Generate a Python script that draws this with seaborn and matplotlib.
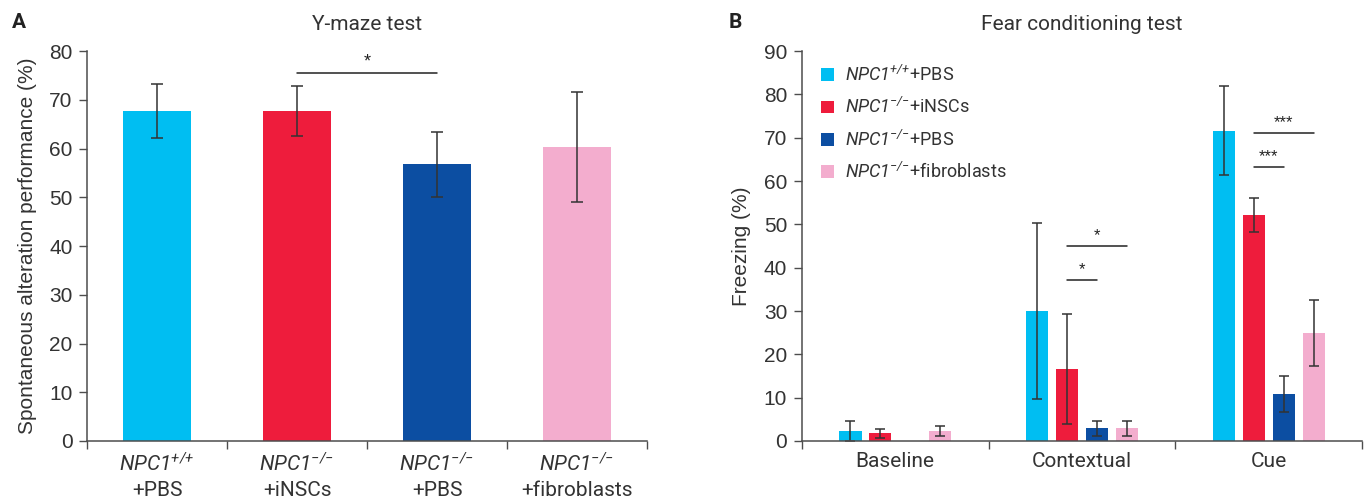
import numpy as np
import pandas as pd
import matplotlib
matplotlib.use("Agg")
import matplotlib.pyplot as plt
import seaborn as sns

# Y-maze data
ymaze_labels = [r"$NPC1^{{+}/{+}}$" + "\n+PBS",
                r"$NPC1^{{-}/{-}}$" + "\n+iNSCs",
                r"$NPC1^{{-}/{-}}$" + "\n+PBS",
                r"$NPC1^{{-}/{-}}$" + "\n+fibroblasts"]
ymaze_mean = [67.7, 67.7, 56.8, 60.4]
ymaze_err = [5.6, 5.1, 6.7, 11.3]
ymaze_sig = [(1, 2, 75.6, "*")]

# Fear conditioning data
phases = ["Baseline", "Contextual", "Cue"]
groups = [r"$NPC1^{{+}/{+}}$+PBS",
          r"$NPC1^{{-}/{-}}$+iNSCs",
          r"$NPC1^{{-}/{-}}$+PBS",
          r"$NPC1^{{-}/{-}}$+fibroblasts"]
wt_pbs = [2.3, 30.0, 71.6]
ko_insc = [1.8, 16.6, 52.2]
ko_pbs = [0.0, 2.9, 10.8]
ko_fib = [2.3, 2.9, 24.9]
wt_pbs_err = [2.3, 20.3, 10.3]
ko_insc_err = [1.0, 12.7, 3.9]
ko_pbs_err = [0.0, 1.8, 4.2]
ko_fib_err = [1.2, 1.8, 7.6]
# (phase, group a, group b, line height, label)
fear_sig = [(1, 1, 2, 37.2, "*"), (1, 1, 3, 45.0, "*"),
            (2, 1, 2, 63.3, "***"), (2, 1, 3, 71.1, "***")]

colors = ["#00BEF2", "#EE1C3C", "#0C4EA2", "#F3ADCE"]

sns.set_style("white")
plt.rcParams['font.family'] = ['Liberation Sans', 'DejaVu Sans']
plt.rcParams['mathtext.fontset'] = 'custom'
plt.rcParams['mathtext.rm'] = 'Roboto:italic'
plt.rcParams['mathtext.it'] = 'Roboto:italic'
plt.rcParams['axes.edgecolor'] = '#4d4d4d'
plt.rcParams['axes.linewidth'] = 1.1

fig = plt.figure(figsize=(13.7, 5.01), dpi=100)
axA = fig.add_axes([0.0635, 0.1198, 0.4088, 0.7782])
axB = fig.add_axes([0.5852, 0.1198, 0.4092, 0.7782])

err_kw = dict(fmt="none", ecolor="#333333", elinewidth=1.1, capthick=1.1)
lab_font = dict(family="Roboto", size=15)


def style_axis(ax, ymax, step, n):
    sns.despine(ax=ax)
    ax.set_ylim(0, ymax)
    ax.set_yticks(np.arange(0, ymax + 1, step))
    ax.set_xlim(-0.5, n - 0.5)
    ax.set_xticks(np.arange(-0.5, n), minor=True)
    ax.tick_params(axis="x", which="major", length=0, pad=8)
    ax.tick_params(axis="x", which="minor", length=5.5, width=1, color="#4d4d4d", bottom=True)
    ax.tick_params(axis="y", length=5.5, width=1, color="#4d4d4d", labelsize=15,
                   labelcolor="#333333", pad=5, left=True)
    ax.set_xlabel("")
    for t in ax.get_xticklabels():
        t.set_fontfamily("Roboto")
        t.set_fontsize(15)
        t.set_color("#333333")
        t.set_linespacing(1.35)


def bar_centers(ax):
    bars = [b for c in ax.containers for b in c]
    return sorted(b.get_x() + b.get_width() / 2 for b in bars)


# Panel A
sns.barplot(x=ymaze_labels, y=ymaze_mean, hue=ymaze_labels, palette=colors,
            width=0.49, saturation=1, linewidth=0, legend=False, ax=axA)
xA = bar_centers(axA)
axA.errorbar(xA, ymaze_mean, yerr=ymaze_err, capsize=4, **err_kw)
for a, b, y, s in ymaze_sig:
    axA.plot([xA[a], xA[b]], [y, y], color="#222222", lw=1.1)
    axA.text((xA[a] + xA[b]) / 2, y + 2.2, s, ha="center", va="center",
             fontsize=13, color="#222222")
style_axis(axA, 80, 10, len(ymaze_labels))
axA.set_ylabel("Spontaneous alteration performance (%)", fontsize=15,
               color="#333333", labelpad=9)
axA.set_title("Y-maze test", fontdict=lab_font, color="#333333", pad=15)

# Panel B
fear = pd.DataFrame({
    "phase": phases * 4,
    "group": np.repeat(groups, len(phases)),
    "freezing": wt_pbs + ko_insc + ko_pbs + ko_fib,
    "err": wt_pbs_err + ko_insc_err + ko_pbs_err + ko_fib_err,
})
sns.barplot(data=fear, x="phase", y="freezing", hue="group", hue_order=groups,
            palette=colors, width=0.64, gap=0.25, saturation=1, linewidth=0,
            errorbar=None, ax=axB)
xB = np.array(bar_centers(axB)).reshape(len(phases), 4)
yB = fear.pivot(index="phase", columns="group", values="freezing").loc[phases, groups].values
eB = fear.pivot(index="phase", columns="group", values="err").loc[phases, groups].values
mask = eB.ravel() > 0
axB.errorbar(xB.ravel()[mask], yB.ravel()[mask], yerr=eB.ravel()[mask], capsize=3.5, **err_kw)
for ph, a, b, y, s in fear_sig:
    x0, x1 = xB[ph, a], xB[ph, b]
    axB.plot([x0, x1], [y, y], color="#222222", lw=1.1)
    axB.text((x0 + x1) / 2, y + 2.4, s, ha="center", va="center",
             fontsize=12, color="#222222")
style_axis(axB, 90, 10, len(phases))
axB.set_ylabel("Freezing (%)", fontsize=15, color="#333333", labelpad=9)
axB.set_title("Fear conditioning test", fontdict=lab_font, color="#333333", pad=15)
handles, labels = axB.get_legend_handles_labels()
leg = axB.legend(handles, labels, loc="upper left", bbox_to_anchor=(0.035, 0.965),
                 frameon=False, handlelength=0.7, handleheight=0.7, handletextpad=0.6,
                 labelspacing=0.68, borderaxespad=0, borderpad=0,
                 prop={"family": "Roboto", "size": 13})
for t in leg.get_texts():
    t.set_color("#333333")

fig.text(0.009, 0.956, "A", fontsize=15, fontweight="bold", family="Roboto",
         va="center", color="#222222")
fig.text(0.532, 0.956, "B", fontsize=15, fontweight="bold", family="Roboto",
         va="center", color="#222222")

fig.savefig("out.png", dpi=100)
